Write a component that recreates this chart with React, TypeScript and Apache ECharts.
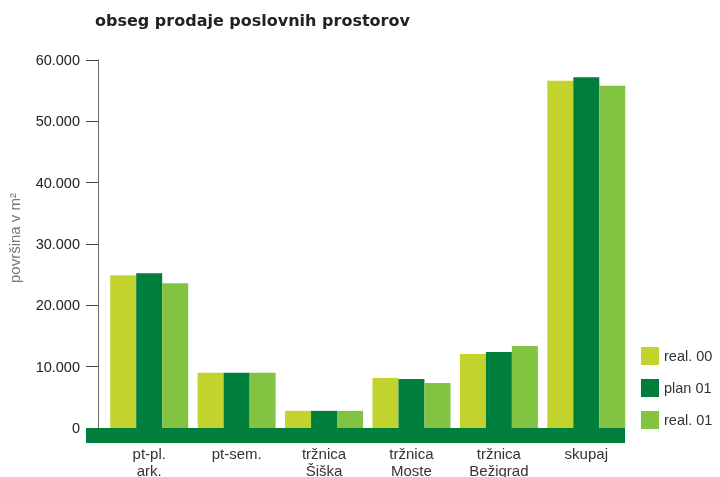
import React, { useEffect, useRef } from "react";
import * as echarts from "echarts";

const categories = ["pt-pl.\nark.", "pt-sem.", "tržnica\nŠiška", "tržnica\nMoste", "tržnica\nBežigrad", "skupaj"];
const seriesNames = ["real. 00", "plan 01", "real. 01"];
const real00 = [24900, 9000, 2800, 8150, 12050, 56600];
const plan01 = [25250, 9000, 2800, 8000, 12400, 57200];
const real01 = [23600, 9000, 2800, 7350, 13350, 55800];
const colors = ["#C3D32E", "#007E3C", "#82C341"];

export default function App() {
  const ref = useRef<HTMLDivElement>(null);
  useEffect(() => {
    if (!ref.current) return;
    const chart = echarts.init(ref.current, null, { renderer: "svg" });
    const font = "'Liberation Sans', Arial, Helvetica, sans-serif";
    const values = [real00, plan01, real01];
    chart.setOption({
      animation: false,
      textStyle: { fontFamily: font },
      title: {
        text: "obseg prodaje poslovnih prostorov",
        left: 90,
        top: 7,
        textStyle: { fontSize: 16, fontWeight: "bold", color: "#222", fontFamily: "'DejaVu Sans', sans-serif" },
      },
      legend: {
        orient: "vertical",
        left: 636,
        top: 342,
        itemWidth: 18,
        itemHeight: 18,
        itemGap: 14,
        icon: "rect",
        data: seriesNames,
        textStyle: { fontSize: 14.5, color: "#333", fontFamily: font },
      },
      grid: { left: 105.5, right: 90, top: 60, bottom: 49, containLabel: false, outerBoundsMode: "none" },
      xAxis: {
        type: "category",
        data: categories,
        axisLine: { show: false },
        axisTick: { show: false },
        axisLabel: { fontSize: 15, color: "#333", lineHeight: 17, margin: 17, fontFamily: font },
      },
      yAxis: {
        type: "value",
        min: 0,
        max: 60000,
        interval: 10000,
        offset: 7.5,
        name: "površina v m²",
        nameLocation: "middle",
        nameRotate: 90,
        nameGap: 76,
        nameTextStyle: { fontSize: 15, color: "#777", fontFamily: font, padding: [0, 0, 0, 12] },
        axisLine: { show: true, lineStyle: { color: "#666", width: 1 } },
        axisTick: { show: true, length: 12, lineStyle: { color: "#444", width: 1 } },
        splitLine: { show: false },
        axisLabel: {
          fontSize: 14.5,
          color: "#222",
          margin: 18,
          fontFamily: font,
          formatter: (v: number) => (v === 0 ? "0" : v.toLocaleString("de-DE")),
        },
      },
      graphic: [
        {
          type: "rect",
          shape: { x: 86, y: 428, width: 539, height: 15 },
          style: { fill: "#007E3C" },
          z: 10,
        },
      ],
      series: seriesNames.map((name, i) => ({
        name,
        type: "bar",
        data: values[i],
        barWidth: 26,
        barGap: "0%",
        itemStyle: { color: colors[i] },
      })),
    });
    return () => chart.dispose();
  }, []);
  return <div ref={ref} style={{ position: "fixed", left: 0, top: 0, width: 720, height: 477 }} />;
}
